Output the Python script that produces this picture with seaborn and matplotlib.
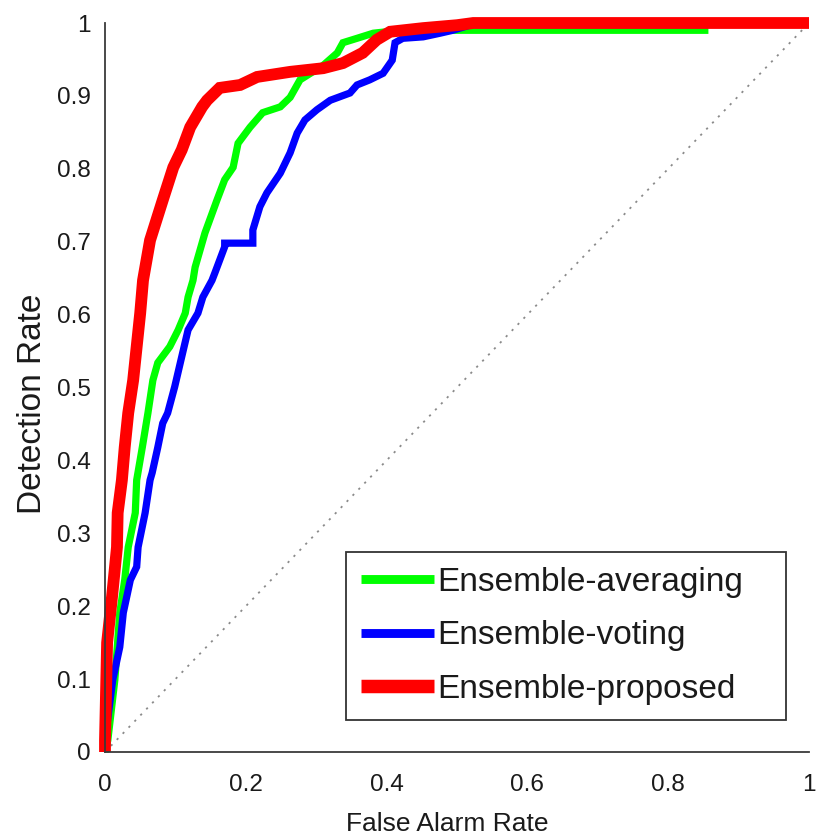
import numpy as np
import pandas as pd
import matplotlib
matplotlib.use("Agg")
import matplotlib.pyplot as plt
import seaborn as sns

# ---- data ----
methods = ["Ensemble-averaging", "Ensemble-voting", "Ensemble-proposed"]
colors = ["#00ff00", "#0000ff", "#ff0000"]

avg_x = [0, 0.004, 0.014, 0.021, 0.028, 0.033, 0.043, 0.045, 0.053, 0.061, 0.068, 0.075,
         0.092, 0.104, 0.114, 0.118, 0.125, 0.128, 0.142, 0.159, 0.170, 0.182, 0.189, 0.206,
         0.224, 0.249, 0.263, 0.277, 0.310, 0.330, 0.338, 0.358, 0.381, 0.419, 0.852, 0.852, 1.0]
avg_y = [0, 0.016, 0.099, 0.191, 0.236, 0.281, 0.328, 0.373, 0.418, 0.465, 0.510, 0.534,
         0.556, 0.579, 0.602, 0.624, 0.647, 0.665, 0.712, 0.757, 0.785, 0.802, 0.835, 0.857,
         0.877, 0.885, 0.898, 0.922, 0.942, 0.959, 0.973, 0.979, 0.986, 0.990, 0.990, 1.0, 1.0]

vote_x = [0, 0, 0.011, 0.021, 0.026, 0.036, 0.045, 0.047, 0.057, 0.064, 0.067, 0.075, 0.082,
          0.089, 0.099, 0.107, 0.118, 0.132, 0.139, 0.152, 0.156, 0.170, 0.170, 0.210, 0.210,
          0.220, 0.230, 0.249, 0.263, 0.273, 0.284, 0.301, 0.320, 0.348, 0.358, 0.376, 0.395,
          0.408, 0.412, 0.423, 0.452, 0.476, 0.494, 0.518, 0.533, 1.0]
vote_y = [0, 0.016, 0.099, 0.144, 0.191, 0.236, 0.254, 0.281, 0.328, 0.373, 0.383, 0.418, 0.451,
          0.465, 0.501, 0.534, 0.579, 0.602, 0.624, 0.647, 0.657, 0.693, 0.698, 0.698, 0.716,
          0.748, 0.767, 0.794, 0.822, 0.849, 0.867, 0.881, 0.894, 0.904, 0.915, 0.922, 0.931,
          0.949, 0.973, 0.979, 0.981, 0.986, 0.990, 0.997, 1.0, 1.0]

prop_x = [0, 0, 0.003, 0.010, 0.017, 0.018, 0.024, 0.028, 0.033, 0.040, 0.045, 0.050, 0.054,
          0.064, 0.082, 0.097, 0.109, 0.121, 0.138, 0.145, 0.163, 0.192, 0.216, 0.263, 0.310,
          0.338, 0.366, 0.386, 0.405, 0.452, 0.500, 0.523, 1.0]
prop_y = [0, 0.016, 0.150, 0.213, 0.281, 0.328, 0.373, 0.418, 0.465, 0.510, 0.556, 0.602, 0.647,
          0.702, 0.757, 0.802, 0.826, 0.857, 0.885, 0.894, 0.911, 0.915, 0.926, 0.933, 0.938,
          0.945, 0.959, 0.977, 0.988, 0.993, 0.997, 1.0, 1.0]

chance_x = [0, 1]
chance_y = [0, 1]

x_ticks = [0, 0.2, 0.4, 0.6, 0.8, 1.0]
x_tick_labels = ["0", "0.2", "0.4", "0.6", "0.8", "1"]
y_ticks = [0, 0.1, 0.2, 0.3, 0.4, 0.5, 0.6, 0.7, 0.8, 0.9, 1.0]
y_tick_labels = ["0", "0.1", "0.2", "0.3", "0.4", "0.5", "0.6", "0.7", "0.8", "0.9", "1"]

series = {
    methods[0]: (avg_x, avg_y),
    methods[1]: (vote_x, vote_y),
    methods[2]: (prop_x, prop_y),
}
df = pd.concat(
    [pd.DataFrame({"x": sx, "y": sy, "method": m, "order": np.arange(len(sx))})
     for m, (sx, sy) in series.items()],
    ignore_index=True,
)

# ---- style ----
sns.set_style("white")
plt.rcParams["font.family"] = ["Liberation Sans", "DejaVu Sans"]
text_color = "#1a1a1a"
spine_color = "#3a3a3a"

fig = plt.figure(figsize=(8.21, 8.39), dpi=100)
ax = fig.add_axes([105 / 821, 1 - 752 / 839, 704 / 821, 729 / 839])

# chance diagonal
sns.lineplot(x=chance_x, y=chance_y, ax=ax, color="#8a8a8a", linewidth=1.3,
             dashes=False, legend=False)
ax.lines[-1].set_linestyle((0, (1.2, 3.5)))

widths = [5.2, 5.2, 8.5]
for m, c, w in zip(methods, colors, widths):
    sub = df[df["method"] == m]
    sns.lineplot(data=sub, x="x", y="y", ax=ax, color=c, linewidth=w,
                 sort=False, estimator=None, label=m)
for ln in ax.lines:
    ln.set_clip_on(False)
    ln.set_solid_capstyle("butt")
    ln.set_solid_joinstyle("miter")

ax.set_xlim(0, 1)
ax.set_ylim(0, 1)
ax.set_xticks(x_ticks)
ax.set_xticklabels(x_tick_labels)
ax.set_yticks(y_ticks)
ax.set_yticklabels(y_tick_labels)

ax.tick_params(axis="x", direction="in", length=6, width=1.2, color=spine_color,
               labelsize=17.5, labelcolor=text_color, pad=16)
ax.tick_params(axis="y", direction="in", length=6, width=1.2, color=spine_color,
               labelsize=17.5, labelcolor=text_color, pad=10)

for s in ["top", "right"]:
    ax.spines[s].set_visible(False)
for s in ["left", "bottom"]:
    ax.spines[s].set_color(spine_color)
    ax.spines[s].set_linewidth(1.3)

ax.set_xlabel("False Alarm Rate", fontsize=19, color=text_color)
ax.set_ylabel("Detection Rate", fontsize=24, color=text_color)
ax.xaxis.set_label_coords((447.5 - 105) / 704, -(824 - 752) / 729)
ax.xaxis.label.set_va("center")
ax.yaxis.set_label_coords(-(105 - 33) / 704, (752 - 404) / 729)
ax.yaxis.label.set_va("center")

leg = ax.legend(
    loc="lower left",
    bbox_to_anchor=((346 - 105) / 704, (752 - 720) / 729, 440 / 704, 169 / 729),
    mode="expand",
    borderaxespad=0,
    fontsize=24,
    handlelength=2.2,
    handletextpad=0.1,
    labelspacing=0.68,
    borderpad=0.45,
    frameon=True,
    fancybox=False,
    framealpha=1,
    edgecolor="#333333",
)
leg.get_frame().set_linewidth(1.3)
for t in leg.get_texts():
    t.set_color(text_color)
for h, w in zip(leg.get_lines(), widths):
    h.set_linewidth(w + 1.2)
    h.set_solid_capstyle("butt")

ax.set_facecolor("white")
fig.patch.set_facecolor("white")
fig.savefig("out.png", dpi=100, facecolor="white")
